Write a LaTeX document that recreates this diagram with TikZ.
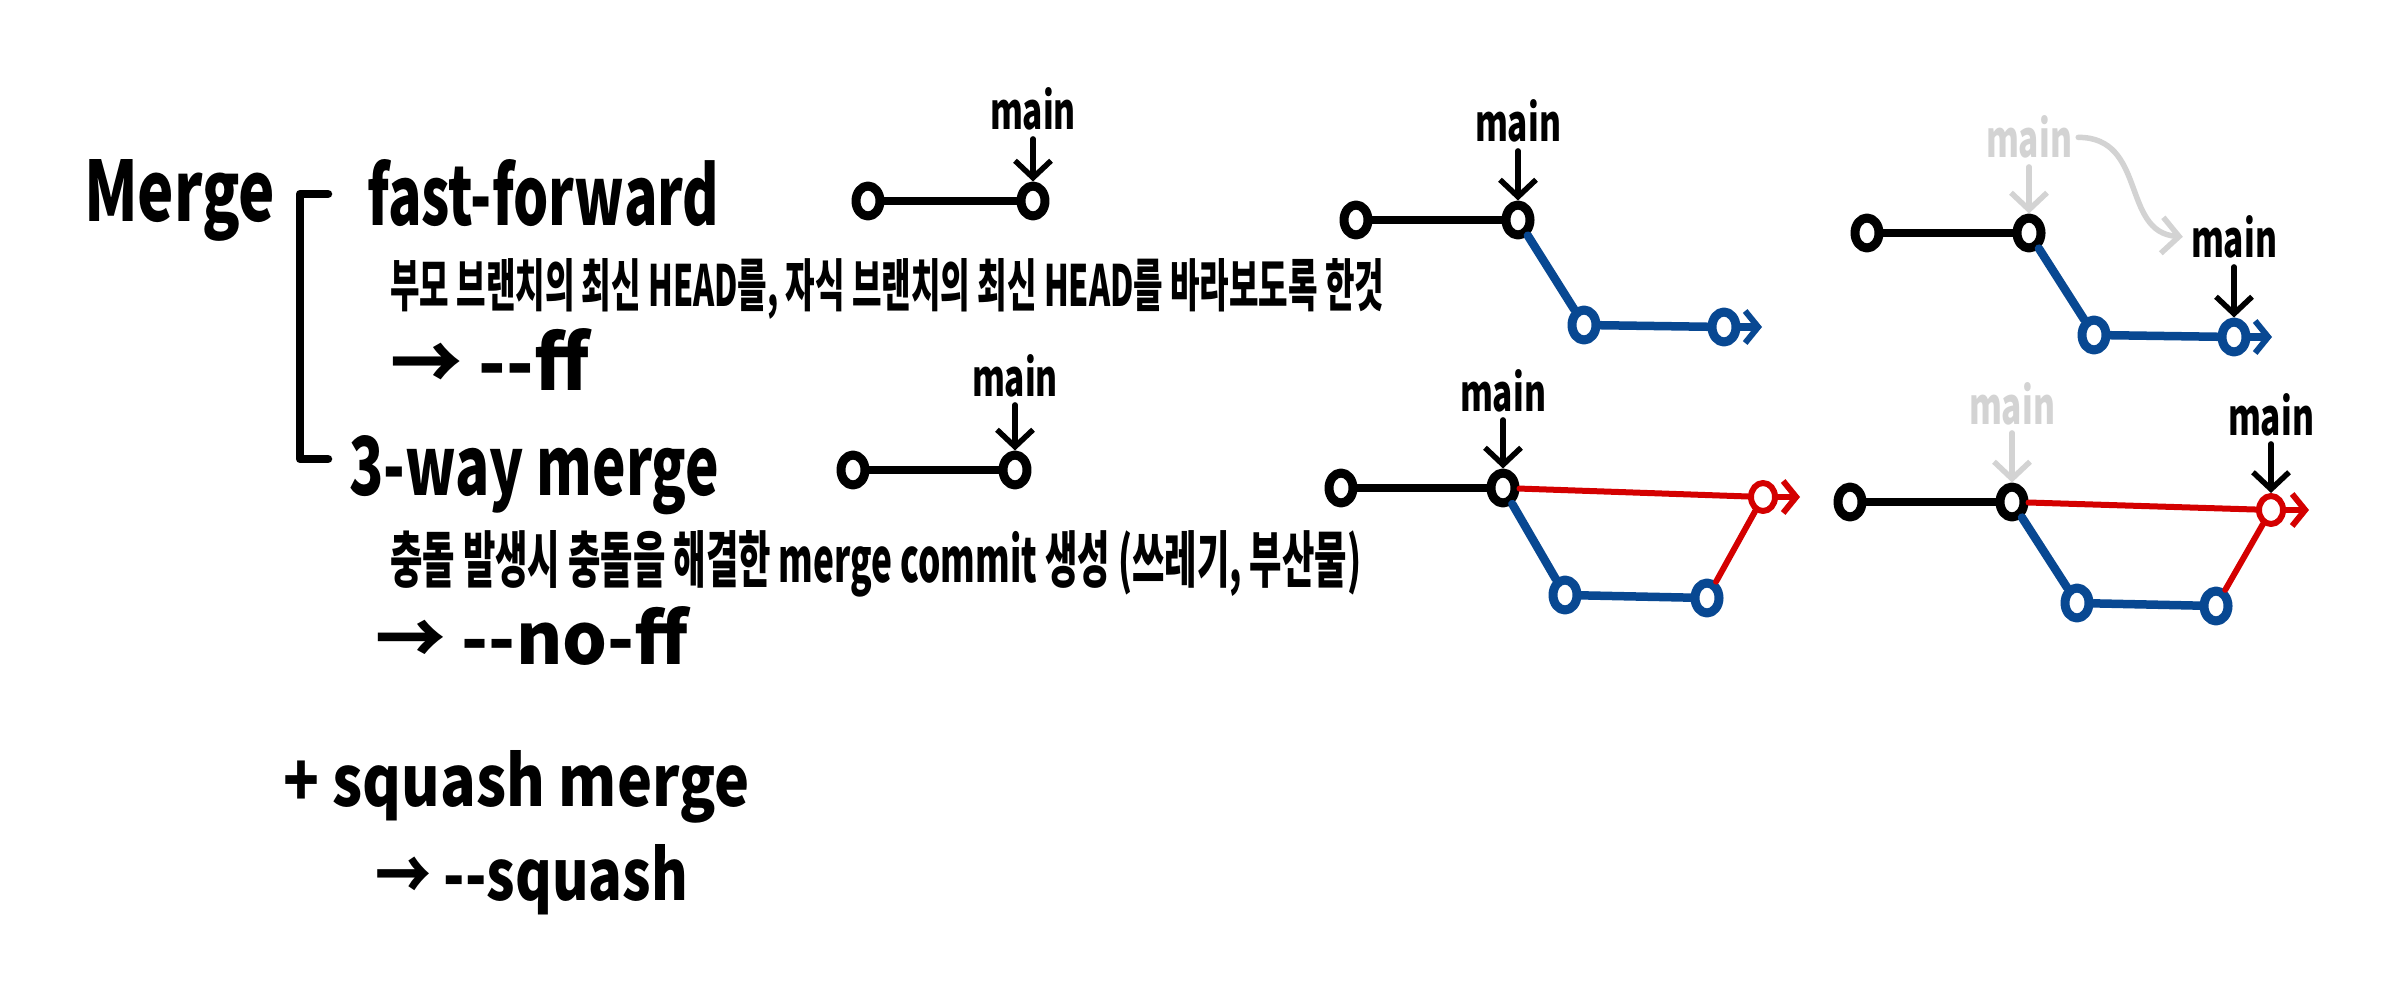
\documentclass[tikz,border=0pt]{standalone}
\usepackage{fontspec}
\usepackage{graphicx}
\setmainfont{Noto Sans CJK KR}[Ligatures=TeXOff]
\usetikzlibrary{arrows.meta,shapes.geometric}
\definecolor{brblue}{RGB}{8,72,146}
\definecolor{brred}{RGB}{212,0,0}
\definecolor{ghost}{RGB}{211,211,211}
\newcommand{\hw}[3]{\resizebox{#1pt}{#2pt}{\bfseries #3}}
\begin{document}
\begin{tikzpicture}[x=1pt,y=-1pt,line cap=round,line join=round,
  commit/.style={ellipse,draw,line width=9pt,minimum width=24pt,minimum height=30pt,inner sep=0pt},
  redcommit/.style={ellipse,draw=brred,line width=6pt,minimum width=24pt,minimum height=28pt,inner sep=0pt},
  bcommit/.style={commit,draw=brblue},
  bl/.style={line width=8.5pt},
  blu/.style={line width=8.5pt,draw=brblue},
  rd/.style={line width=6pt,draw=brred},
  ptr/.style={line width=5.5pt,shorten <=8pt,-{Straight Barb[length=17pt,width=36pt,line width=5.5pt]}},
  gptr/.style={ptr,draw=ghost},
  tipb/.style={-{Straight Barb[length=13pt,width=32pt,line width=6pt]}},
  txt/.style={inner sep=0pt,anchor=base west},
  lbl/.style={inner sep=0pt,anchor=base}]
\fill[white] (0,0) rectangle (2398,1000);
\useasboundingbox (0,0) rectangle (2398,1000);

% left texts
\node[txt] (merge) at (84,222) {\hw{191}{62}{Merge}};
\node[txt] (ff) at (367,226) {\hw{352}{66}{fast-forward}};
\node[txt] (ffdesc) at (390,306) {\hw{994}{48}{부모 브랜치의 최신 HEAD를, 자식 브랜치의 최신 HEAD를 바라보도록 한것}};
\node[txt] (ffopt) at (390,390) {\hw{199}{62}{→ --ff}};
\node[txt] (tw) at (349,495) {\hw{370}{60}{3-way merge}};
\node[txt] (twdesc) at (390,582) {\hw{971}{52}{충돌 발생시  충돌을 해결한 merge commit 생성 (쓰레기, 부산물)}};
\node[txt] (twopt) at (375,664) {\hw{313}{58}{→ --no-ff}};
\node[txt] (sq) at (283,806) {\hw{466}{56}{+ squash merge}};
\node[txt] (sqopt) at (375,900) {\hw{313}{56}{→ --squash}};

% bracket
\coordinate (bt) at (328,194);
\coordinate (bb) at (328,459);
\draw[bl] (bt) -- (bt -| 300,0) -- (bb -| 300,0) -- (bb);

% D1: fast-forward before
\node[commit] (c11) at (868,201) {};
\node[commit] (c12) at (1033,201) {};
\node[lbl] (m1) at (1033,130) {\hw{86}{42}{main}};
\draw[bl] (c11) -- (c12);
\draw[ptr] (m1) -- (c12);

% D2: fast-forward, branch
\node[commit] (c21) at (1356,220) {};
\node[commit] (c22) at (1518,220) {};
\node[lbl] (m2) at (1518,142) {\hw{86}{42}{main}};
\node[bcommit] (b21) at (1584,325) {};
\node[bcommit] (b22) at (1724,327) {};
\coordinate (e2) at (1762,327);
\draw[bl] (c21) -- (c22);
\draw[ptr] (m2) -- (c22);
\draw[blu] (c22) -- (b21);
\draw[blu] (b21) -- (b22);
\draw[blu,tipb] (b22) -- (e2);

% D3: fast-forward, after
\node[commit] (c31) at (1867,233) {};
\node[commit] (c32) at (2029,233) {};
\node[lbl,text=ghost] (gm3) at (2029,158) {\hw{86}{42}{main}};
\node[bcommit] (b31) at (2094,335) {};
\node[bcommit] (b32) at (2234,337) {};
\coordinate (e3) at (2272,337);
\node[lbl] (bm3) at (2234,258) {\hw{86}{42}{main}};
\draw[bl] (c31) -- (c32);
\draw[gptr] (gm3) -- (c32);
\draw[blu] (c32) -- (b31);
\draw[blu] (b31) -- (b32);
\draw[blu,tipb] (b32) -- (e3);
\draw[ptr] (bm3) -- (b32);
\draw[gptr,shorten <=6pt,shorten >=8pt] (gm3.east) .. controls +(75,0) and +(-70,-5) .. (bm3.west);

% D4: 3-way before
\node[commit] (c41) at (853,470) {};
\node[commit] (c42) at (1015,470) {};
\node[lbl] (m4) at (1015,396) {\hw{86}{42}{main}};
\draw[bl] (c41) -- (c42);
\draw[ptr] (m4) -- (c42);

% D5: 3-way merge
\node[commit] (c51) at (1341,488) {};
\node[commit] (c52) at (1503,488) {};
\node[lbl] (m5) at (1503,411) {\hw{86}{42}{main}};
\node[redcommit] (r5) at (1763,497) {};
\coordinate (e5) at (1800,497);
\node[bcommit] (b51) at (1565,595) {};
\node[bcommit] (b52) at (1707,598) {};
\draw[bl] (c51) -- (c52);
\draw[ptr] (m5) -- (c52);
\draw[rd] (c52) -- (r5);
\draw[rd,tipb] (r5) -- (e5);
\draw[blu] (c52) -- (b51);
\draw[blu] (b51) -- (b52);
\draw[rd] (b52) -- (r5);

% D6: 3-way after
\node[commit] (c61) at (1850,502) {};
\node[commit] (c62) at (2012,502) {};
\node[lbl,text=ghost] (gm6) at (2012,424) {\hw{86}{42}{main}};
\node[redcommit] (r6) at (2271,510) {};
\coordinate (e6) at (2309,510);
\node[lbl] (bm6) at (2271,435) {\hw{86}{42}{main}};
\node[bcommit] (b61) at (2077,603) {};
\node[bcommit] (b62) at (2216,606) {};
\draw[bl] (c61) -- (c62);
\draw[gptr] (gm6) -- (c62);
\draw[rd] (c62) -- (r6);
\draw[rd,tipb] (r6) -- (e6);
\draw[blu] (c62) -- (b61);
\draw[blu] (b61) -- (b62);
\draw[rd] (b62) -- (r6);
\draw[ptr] (bm6) -- (r6);
\end{tikzpicture}
\end{document}
